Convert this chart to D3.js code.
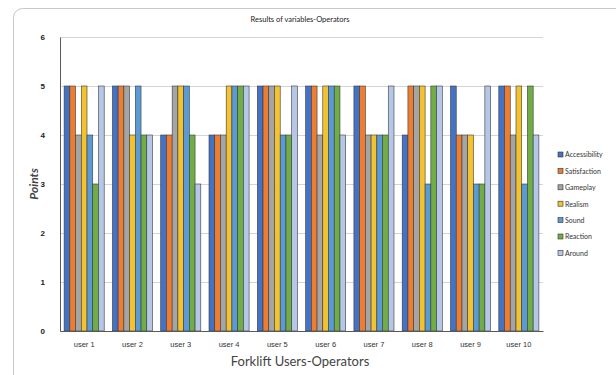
<!DOCTYPE html>
<html>
<head>
<meta charset="utf-8">
<script src="https://cdn.jsdelivr.net/npm/d3@7"></script>
<style>
  body { margin: 0; background: #fff; }
  svg { display: block; font-family: Lato, "Open Sans", sans-serif; }
</style>
</head>
<body>
<div id="chart"></div>
<script>
const width = 616, height = 375,
    margin = ({ top: 37, right: 73, bottom: 44, left: 60 });

// data
const users = ["user 1", "user 2", "user 3", "user 4", "user 5", "user 6", "user 7", "user 8", "user 9", "user 10"];
const variables = ["Accessibility", "Satisfaction", "Gameplay", "Realism", "Sound", "Reaction", "Around"];
const accessibility = [5, 5, 4, 4, 5, 5, 5, 4, 5, 5];
const satisfaction  = [5, 5, 4, 4, 5, 5, 5, 5, 4, 5];
const gameplay      = [4, 5, 5, 4, 5, 4, 4, 5, 4, 4];
const realism       = [5, 4, 5, 5, 5, 5, 4, 5, 4, 5];
const sound         = [4, 5, 5, 5, 4, 5, 4, 3, 3, 3];
const reaction      = [3, 4, 4, 5, 4, 5, 4, 5, 3, 5];
const around        = [5, 4, 3, 5, 5, 4, 5, 5, 5, 4];
const yTicks = [0, 1, 2, 3, 4, 5, 6];

const seriesValues = [accessibility, satisfaction, gameplay, realism, sound, reaction, around];
const colors = ["#4472C4", "#ED7D31", "#A5A5A5", "#F2C230", "#5B9BD5", "#70AD47", "#B4C7E7"];

const rows = users.map((u, i) => ({ user: u, values: variables.map((v, j) => ({ key: v, value: seriesValues[j][i] })) }));

const svg = d3.select("#chart").append("svg")
    .attr("width", width).attr("height", height);

// page frame
svg.append("rect")
    .attr("x", 13.5).attr("y", 8.5).attr("width", 700).attr("height", 500)
    .attr("rx", 9)
    .attr("fill", "none").attr("stroke", "#c8c8c8");

let x0 = d3.scaleBand().domain(users)
    .range([margin.left, width - margin.right])
    .paddingInner(0.17).paddingOuter(0.085);

let x1 = d3.scaleBand().domain(variables).range([0, x0.bandwidth()]);

let y = d3.scaleLinear().domain([0, 6])
    .range([height - margin.bottom, margin.top]);

let color = d3.scaleOrdinal().domain(variables).range(colors);

// grid
svg.append("g")
    .attr("transform", `translate(${margin.left},0)`)
    .call(d3.axisLeft(y).tickValues(yTicks).tickSize(-(width - margin.left - margin.right)).tickFormat(""))
    .call(g => g.select(".domain").remove())
    .call(g => g.selectAll("line").attr("stroke", "#d4d4d4"));

// bars
svg.append("g")
  .selectAll("g")
  .data(rows)
  .join("g")
    .attr("transform", d => `translate(${x0(d.user)},0)`)
  .selectAll("rect")
  .data(d => d.values)
  .join("rect")
    .attr("x", d => x1(d.key))
    .attr("y", d => y(d.value))
    .attr("width", x1.bandwidth())
    .attr("height", d => y(0) - y(d.value))
    .attr("fill", d => color(d.key))
    .attr("stroke", "#3a3a3a")
    .attr("stroke-width", 0.6);

// y axis
svg.append("g")
    .attr("transform", `translate(${margin.left},0)`)
    .call(d3.axisLeft(y).tickValues(yTicks).tickFormat(d3.format("d")).tickSize(0).tickPadding(15))
    .call(g => g.select(".domain").attr("stroke", "#595959"))
    .call(g => g.selectAll("text").attr("font-size", 8).attr("font-weight", "bold").attr("fill", "#222"));

// x axis
svg.append("g")
    .attr("transform", `translate(0,${height - margin.bottom})`)
    .call(d3.axisBottom(x0).tickSize(0).tickSizeOuter(0).tickPadding(11))
    .call(g => g.select(".domain").attr("stroke", "#595959"))
    .call(g => g.selectAll("text").attr("font-size", 7.5).attr("fill", "#333"));

// title and axis labels
svg.append("text")
    .attr("x", 300).attr("y", 22)
    .attr("text-anchor", "middle")
    .attr("font-size", 7.5).attr("fill", "#222")
    .text("Results of variables-Operators");

svg.append("text")
    .attr("transform", "translate(38,184) rotate(-90)")
    .attr("text-anchor", "middle")
    .attr("font-size", 12).attr("font-weight", "bold").attr("font-style", "italic").attr("fill", "#444")
    .text("Points");

svg.append("text")
    .attr("x", 300).attr("y", 366)
    .attr("text-anchor", "middle")
    .attr("font-size", 13).attr("fill", "#444")
    .text("Forklift Users-Operators");

// legend
const legend = svg.append("g")
    .selectAll("g")
    .data(variables)
    .join("g")
    .attr("transform", (d, i) => `translate(558,${155 + i * 16.4})`);

legend.append("rect")
    .attr("x", 0).attr("y", -3).attr("width", 5).attr("height", 5)
    .attr("fill", d => color(d)).attr("stroke", "#333").attr("stroke-width", 0.6);

legend.append("text")
    .attr("x", 7).attr("y", 0)
    .attr("dy", "0.35em")
    .attr("font-size", 7).attr("fill", "#333")
    .text(d => d);
</script>
</body>
</html>
